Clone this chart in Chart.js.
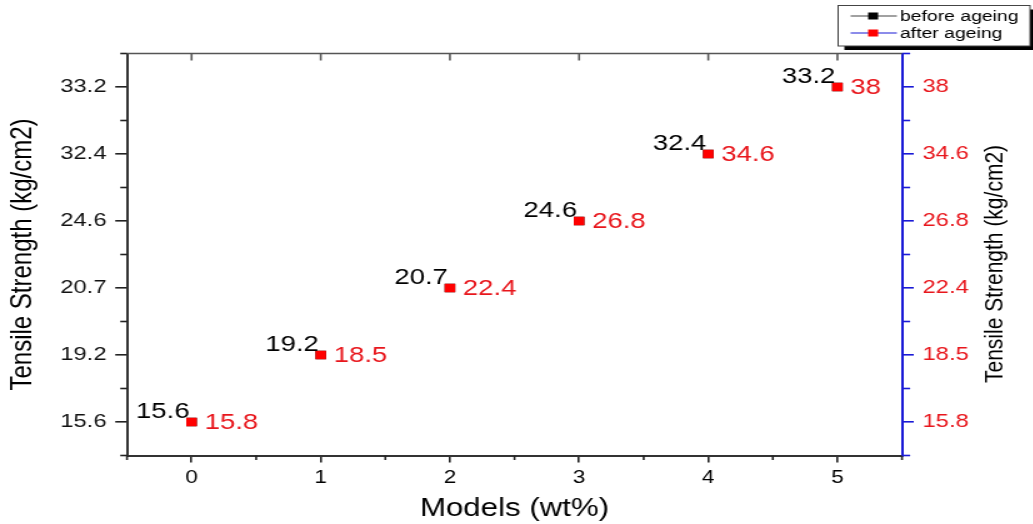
<!DOCTYPE html>
<html>
<head>
<meta charset="utf-8">
<title>Tensile Strength</title>
<script src="https://cdn.jsdelivr.net/npm/chart.js@4.4.1/dist/chart.umd.min.js"></script>
<style>
    html, body { margin: 0; padding: 0; background: #fff; overflow: hidden; }
    /* the original picture is a bit stretched sideways, so stretch the canvas the same way */
    #wrap { position: absolute; left: 0; top: 0; width: 826px; height: 524px;
            transform: scaleX(1.25); transform-origin: 0 0; }
</style>
</head>
<body>
<div id="wrap"><canvas id="chart" width="826" height="524"></canvas></div>
<script>
// данные
const models = [0, 1, 2, 3, 4, 5];
const before = [15.6, 19.2, 20.7, 24.6, 32.4, 33.2];
const after = [15.8, 18.5, 22.4, 26.8, 34.6, 38];
const seriesNames = ["before ageing", "after ageing"];
const xTitle = "Models (wt%)";
const yTitle = "Tensile Strength (kg/cm2)";

const FONT = '"Liberation Sans", Arial, Helvetica, sans-serif';
const RED = "#e8161c";
const BLUE = "#1a1ad6";

// оси Y в оригинале - просто позиции 0..5 с подписями значений
const yPos = models.map((m, i) => i);

function halfSteps() {
    const out = [];
    for (let v = -0.5; v <= 5.5 + 1e-9; v += 1) out.push(v);
    return out;
}

const extras = {
    id: "extras",
    afterDatasetsDraw(chart) {
        const ctx = chart.ctx;
        ctx.save();
        ctx.font = `22px ${FONT}`;

        // подписи "до старения" - слева сверху от точки
        ctx.fillStyle = "#000";
        ctx.textAlign = "right";
        ctx.textBaseline = "alphabetic";
        chart.getDatasetMeta(0).data.forEach((pt, i) => {
            ctx.fillText(String(before[i]), pt.x - 1.6, pt.y - 4);
        });

        // подписи "после старения" - справа
        ctx.fillStyle = RED;
        ctx.textAlign = "left";
        ctx.textBaseline = "middle";
        chart.getDatasetMeta(1).data.forEach((pt, i) => {
            ctx.fillText(String(after[i]), pt.x + 10.4, pt.y + 1);
        });
        ctx.restore();
    },
    afterDraw(chart) {
        const ctx = chart.ctx;
        const area = chart.chartArea;
        const sx = chart.scales.x, sy = chart.scales.y, sy2 = chart.scales.y2;
        ctx.save();

        // мелкие засечки
        ctx.lineWidth = 1.6;
        ctx.strokeStyle = "#222";
        halfSteps().forEach(v => {
            const y = sy.getPixelForValue(v);
            ctx.beginPath(); ctx.moveTo(area.left, y); ctx.lineTo(area.left - 5.4, y); ctx.stroke();
            const x = sx.getPixelForValue(v);
            ctx.beginPath(); ctx.moveTo(x, area.bottom); ctx.lineTo(x, area.bottom + 4.5); ctx.stroke();
        });
        ctx.strokeStyle = BLUE;
        halfSteps().forEach(v => {
            const y = sy2.getPixelForValue(v);
            ctx.beginPath(); ctx.moveTo(area.right, y); ctx.lineTo(area.right + 6.5, y); ctx.stroke();
        });

        // верхняя рамка с засечками внутрь
        ctx.strokeStyle = "#555";
        ctx.beginPath(); ctx.moveTo(area.left, area.top); ctx.lineTo(area.right, area.top); ctx.stroke();
        models.forEach(v => {
            const x = sx.getPixelForValue(v);
            ctx.beginPath(); ctx.moveTo(x, area.top); ctx.lineTo(x, area.top + 7); ctx.stroke();
        });

        // правая подпись оси (повёрнута так же, как левая)
        ctx.save();
        ctx.translate(796, 264);
        ctx.rotate(-Math.PI / 2);
        ctx.font = `21px ${FONT}`;
        ctx.fillStyle = "#000";
        ctx.textAlign = "center";
        ctx.textBaseline = "middle";
        ctx.fillText(yTitle, 0, 0);
        ctx.restore();

        // легенда
        const bx = 670.5, by = 5.5, bw = 153.5, bh = 40.5;
        ctx.fillStyle = "#000";
        ctx.fillRect(bx + 5, by + 4, bw, bh);
        ctx.fillStyle = "#fff";
        ctx.fillRect(bx, by, bw, bh);
        ctx.strokeStyle = "#444";
        ctx.lineWidth = 1;
        ctx.strokeRect(bx, by, bw, bh);

        const rows = [
            { y: 16, line: "#444", mark: "#000" },
            { y: 33, line: BLUE, mark: "#ff0000" }
        ];
        ctx.font = `15.5px ${FONT}`;
        ctx.textAlign = "left";
        ctx.textBaseline = "middle";
        rows.forEach((r, i) => {
            ctx.strokeStyle = r.line;
            ctx.lineWidth = 1.2;
            ctx.beginPath(); ctx.moveTo(680.5, r.y); ctx.lineTo(717.5, r.y); ctx.stroke();
            ctx.fillStyle = r.mark;
            ctx.fillRect(698.5 - 4, r.y - 3.5, 8, 7);
            ctx.fillStyle = "#000";
            ctx.fillText(seriesNames[i], 720, r.y + 0.5);
        });

        ctx.restore();
    }
};

const ctx = document.getElementById("chart");

new Chart(ctx, {
    type: "scatter",
    data: {
        datasets: [
            {
                label: seriesNames[0],
                data: models.map((m, i) => ({ x: m, y: yPos[i] })),
                yAxisID: "y",
                pointStyle: "rect",
                pointRadius: 6,
                backgroundColor: "#000",
                borderWidth: 0,
                order: 1
            },
            {
                label: seriesNames[1],
                data: models.map((m, i) => ({ x: m, y: yPos[i] })),
                yAxisID: "y2",
                pointStyle: "rect",
                pointRadius: 6,
                backgroundColor: "#ff0000",
                borderWidth: 0,
                order: 0
            }
        ]
    },
    options: {
        responsive: false,
        animation: false,
        layout: { padding: { top: 53.5, left: 0, right: 0, bottom: 0 } },
        plugins: { legend: { display: false }, tooltip: { enabled: false } },
        scales: {
            x: {
                type: "linear",
                position: "bottom",
                min: -0.5,
                max: 5.5,
                afterBuildTicks: s => { s.ticks = models.map(v => ({ value: v })); },
                afterFit: s => { s.height = 68.5; },
                grid: { drawOnChartArea: false, drawTicks: true, tickLength: 7, color: "#222", lineWidth: 1.6 },
                border: { color: "#333", width: 2 },
                ticks: {
                    autoSkip: false, maxRotation: 0, padding: 5,
                    color: "#000", font: { family: FONT, size: 18 },
                    callback: v => String(v)
                },
                title: {
                    display: true, text: xTitle, color: "#000",
                    font: { family: FONT, size: 25 }, padding: { top: 0, bottom: 0 }
                }
            },
            y: {
                type: "linear",
                position: "left",
                min: -0.5,
                max: 5.5,
                afterBuildTicks: s => { s.ticks = yPos.map(v => ({ value: v })); },
                afterFit: s => { s.width = 101.6; },
                grid: { drawOnChartArea: false, drawTicks: true, tickLength: 9.4, color: "#222", lineWidth: 1.6 },
                border: { color: "#333", width: 2 },
                ticks: {
                    autoSkip: false, padding: 7,
                    color: "#111", font: { family: FONT, size: 19 },
                    callback: v => String(before[Math.round(v)])
                },
                title: {
                    display: true, text: yTitle, color: "#000",
                    font: { family: FONT, size: 24 }, padding: { top: 4, bottom: 0 }
                }
            },
            y2: {
                type: "linear",
                position: "right",
                min: -0.5,
                max: 5.5,
                afterBuildTicks: s => { s.ticks = yPos.map(v => ({ value: v })); },
                afterFit: s => { s.width = 104.4; },
                grid: { drawOnChartArea: false, drawTicks: true, tickLength: 9.4, color: BLUE, lineWidth: 1.6 },
                border: { color: BLUE, width: 2 },
                ticks: {
                    autoSkip: false, padding: 7,
                    color: RED, font: { family: FONT, size: 19 },
                    callback: v => String(after[Math.round(v)])
                }
            }
        }
    },
    plugins: [extras]
});
</script>
</body>
</html>
